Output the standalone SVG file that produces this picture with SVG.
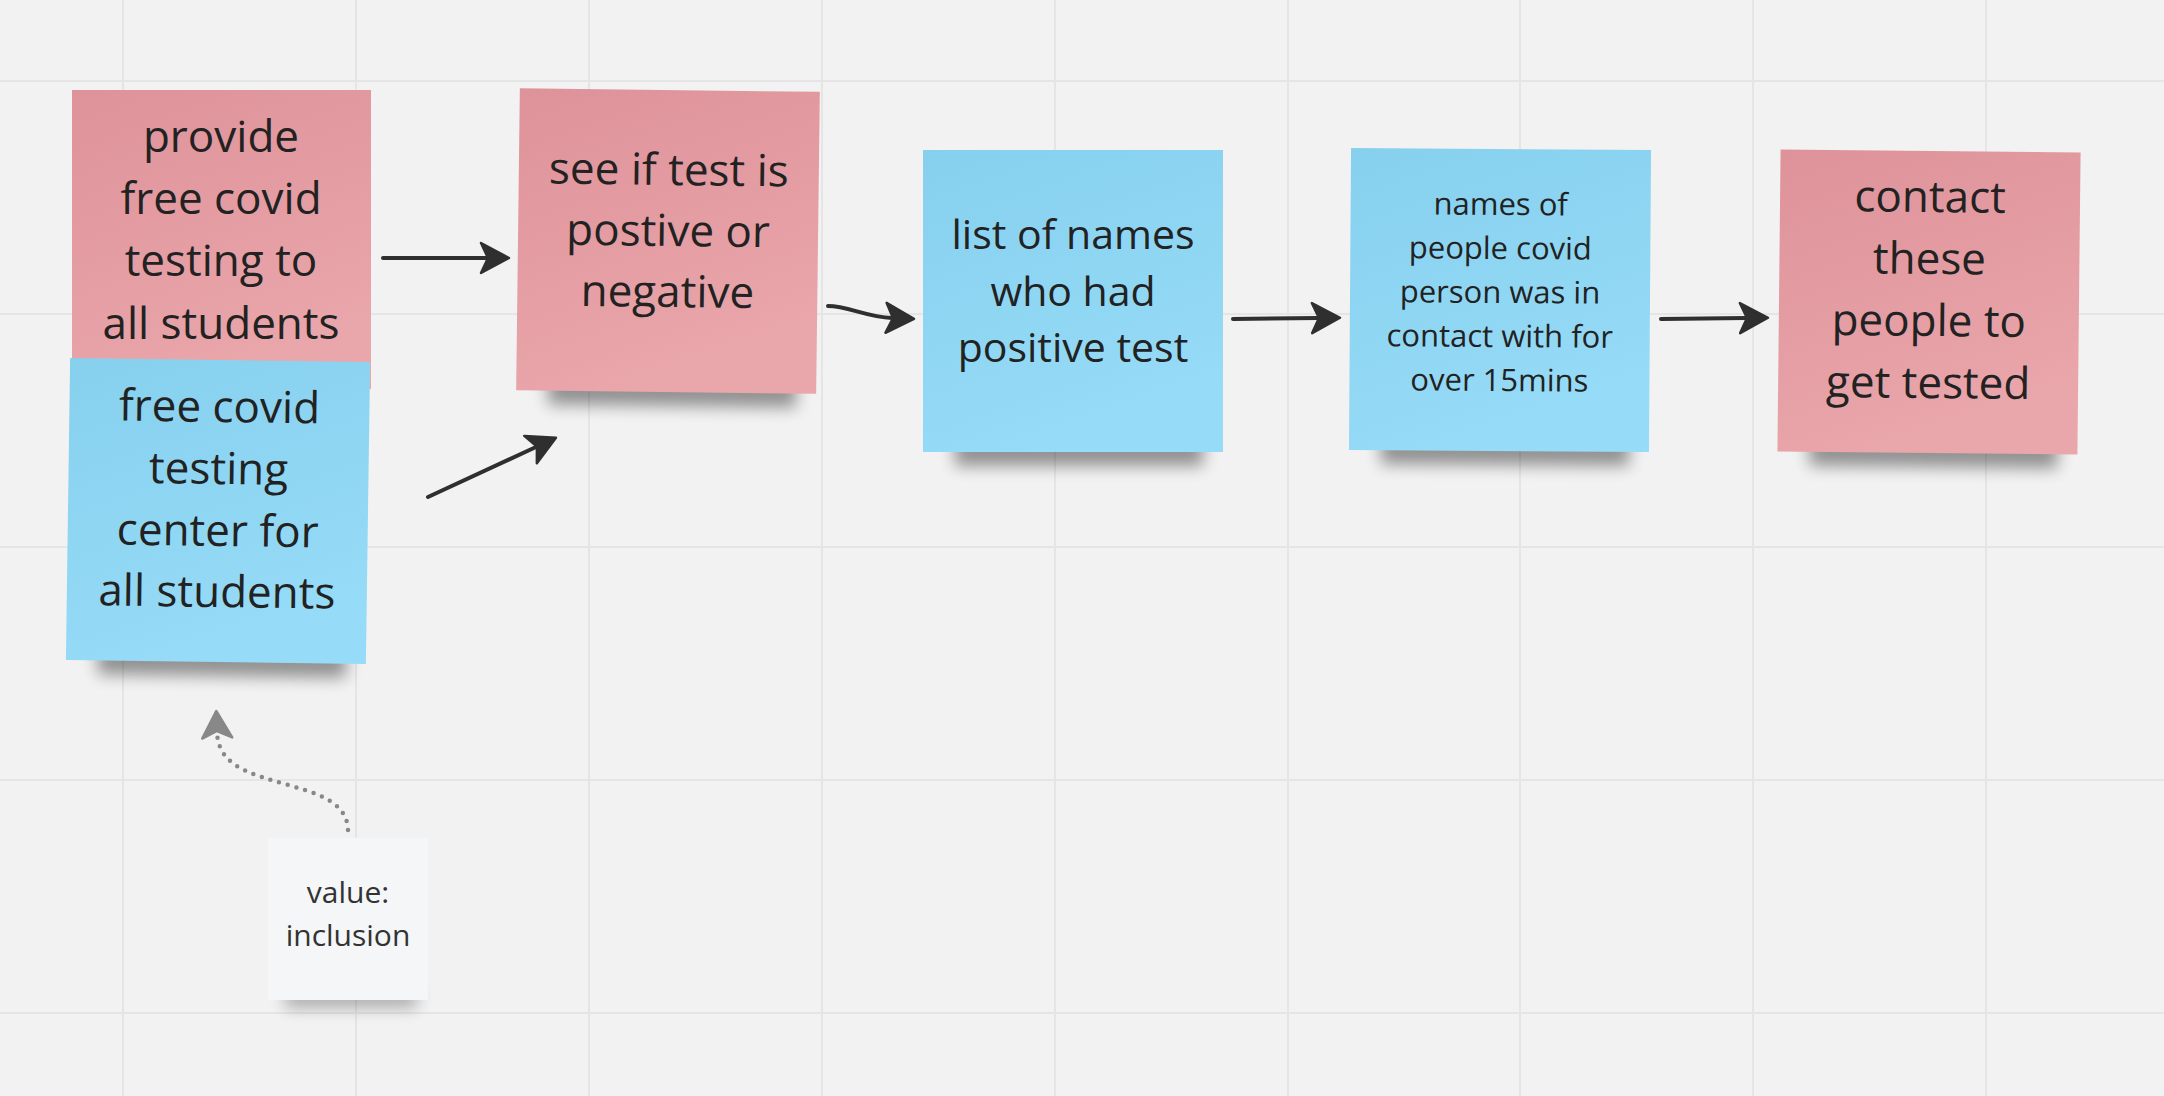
<svg xmlns="http://www.w3.org/2000/svg" width="2164" height="1096" viewBox="0 0 2164 1096">
<defs>
<style>
.grid line{stroke:#e5e5e5;stroke-width:2}
.t{font-family:"Open Sans","Liberation Sans",sans-serif;fill:#222;text-anchor:middle}
.big{font-size:44px}
.mid{font-size:41px}
.sm{font-size:31px}
.val{font-size:30px;fill:#333}
.conn{fill:none;stroke:#2f2f2f;stroke-width:4;stroke-linecap:round}
.dot{fill:none;stroke:#888;stroke-width:4.5;stroke-linecap:round;stroke-dasharray:0 9}
.shadow{fill:#000;opacity:0.4;filter:url(#blur)}
</style>
<linearGradient id="pink" x1="0" y1="0" x2="0.35" y2="1">
<stop offset="0" stop-color="#de9299"/>
<stop offset="1" stop-color="#e9a6ab"/>
</linearGradient>
<linearGradient id="blue" x1="0" y1="0" x2="0.35" y2="1">
<stop offset="0" stop-color="#86d0ee"/>
<stop offset="1" stop-color="#96dbf7"/>
</linearGradient>
<filter id="blur" x="-30%" y="-100%" width="160%" height="300%">
<feGaussianBlur stdDeviation="8"/>
</filter>
<marker id="ah" markerUnits="userSpaceOnUse" markerWidth="34" markerHeight="36" viewBox="0 0 34 36" refX="9" refY="18" orient="auto">
<path d="M3,3 L31,18 L3,33 L10,18 Z" fill="#2f2f2f" stroke="#2f2f2f" stroke-width="2.5" stroke-linejoin="round"/>
</marker>
<marker id="ahg" markerUnits="userSpaceOnUse" markerWidth="34" markerHeight="36" viewBox="0 0 34 36" refX="9" refY="18" orient="auto">
<path d="M3,3 L30,18 L3,33 L10,18 Z" fill="#888" stroke="#888" stroke-width="2.5" stroke-linejoin="round"/>
</marker>
</defs>
<rect width="2164" height="1096" fill="#f2f2f2"/>
<g class="grid">
<line x1="123" y1="0" x2="123" y2="1096"/>
<line x1="356" y1="0" x2="356" y2="1096"/>
<line x1="589" y1="0" x2="589" y2="1096"/>
<line x1="822" y1="0" x2="822" y2="1096"/>
<line x1="1055" y1="0" x2="1055" y2="1096"/>
<line x1="1288" y1="0" x2="1288" y2="1096"/>
<line x1="1520" y1="0" x2="1520" y2="1096"/>
<line x1="1753" y1="0" x2="1753" y2="1096"/>
<line x1="1986" y1="0" x2="1986" y2="1096"/>
<line x1="0" y1="81" x2="2164" y2="81"/>
<line x1="0" y1="314" x2="2164" y2="314"/>
<line x1="0" y1="547" x2="2164" y2="547"/>
<line x1="0" y1="780" x2="2164" y2="780"/>
<line x1="0" y1="1013" x2="2164" y2="1013"/>
</g>

<g id="node-provide">
<rect class="shadow" x="105" y="372" width="245" height="30"/>
<rect x="72" y="90" width="299" height="299" fill="url(#pink)"/>
<text class="t big"><tspan x="221" y="152">provide</tspan><tspan x="221" y="214">free covid</tspan><tspan x="221" y="276">testing to</tspan><tspan x="221" y="339">all students</tspan></text>
</g>

<g id="node-center" transform="rotate(0.8 218 511)">
<rect class="shadow" x="100" y="646" width="248" height="30"/>
<rect x="68" y="360" width="300" height="302" fill="url(#blue)"/>
<text class="t big"><tspan x="218" y="422">free covid</tspan><tspan x="218" y="484">testing</tspan><tspan x="218" y="546">center for</tspan><tspan x="218" y="607">all students</tspan></text>
</g>

<g id="node-see" transform="rotate(0.7 668 241)">
<rect class="shadow" x="550" y="376" width="248" height="30"/>
<rect x="518" y="90" width="300" height="302" fill="url(#pink)"/>
<text class="t big"><tspan x="668" y="185">see if test is</tspan><tspan x="668" y="246">postive or</tspan><tspan x="668" y="307">negative</tspan></text>
</g>

<g id="node-list">
<rect class="shadow" x="955" y="436" width="248" height="30"/>
<rect x="923" y="150" width="300" height="302" fill="url(#blue)"/>
<text class="t mid"><tspan x="1073" y="249">list of names</tspan><tspan x="1073" y="306">who had</tspan><tspan x="1073" y="362">positive test</tspan></text>
</g>

<g id="node-names" transform="rotate(0.4 1500 300)">
<rect class="shadow" x="1382" y="435" width="248" height="30"/>
<rect x="1350" y="149" width="300" height="302" fill="url(#blue)"/>
<text class="t sm"><tspan x="1500" y="215">names of</tspan><tspan x="1500" y="259">people covid</tspan><tspan x="1500" y="303">person was in</tspan><tspan x="1500" y="347">contact with for</tspan><tspan x="1500" y="391">over 15mins</tspan></text>
</g>

<g id="node-contact" transform="rotate(0.6 1929 302)">
<rect class="shadow" x="1811" y="437" width="248" height="30"/>
<rect x="1779" y="151" width="300" height="302" fill="url(#pink)"/>
<text class="t big"><tspan x="1929" y="212">contact</tspan><tspan x="1929" y="274">these</tspan><tspan x="1929" y="336">people to</tspan><tspan x="1929" y="398">get tested</tspan></text>
</g>

<g id="node-value">
<rect x="285" y="986" width="132" height="22" fill="#000" opacity="0.28" filter="url(#blur)"/>
<rect x="268" y="838" width="160" height="162" fill="#f5f6f8"/>
<text class="t val"><tspan x="348" y="903">value:</tspan><tspan x="348" y="946">inclusion</tspan></text>
</g>

<g id="connectors">
<path class="conn" d="M383,258 L487,258" marker-end="url(#ah)"/>
<path class="conn" d="M428,497 L536,447" marker-end="url(#ah)"/>
<path class="conn" d="M828,306 C848,306 866,317 892,318" marker-end="url(#ah)"/>
<path class="conn" d="M1233,319 L1318,318" marker-end="url(#ah)"/>
<path class="conn" d="M1661,319 L1746,318" marker-end="url(#ah)"/>
<path class="dot" d="M348,830 C347,795 300,790 265,778 C240,770 218,760 217,732" marker-end="url(#ahg)"/>
</g>
</svg>
